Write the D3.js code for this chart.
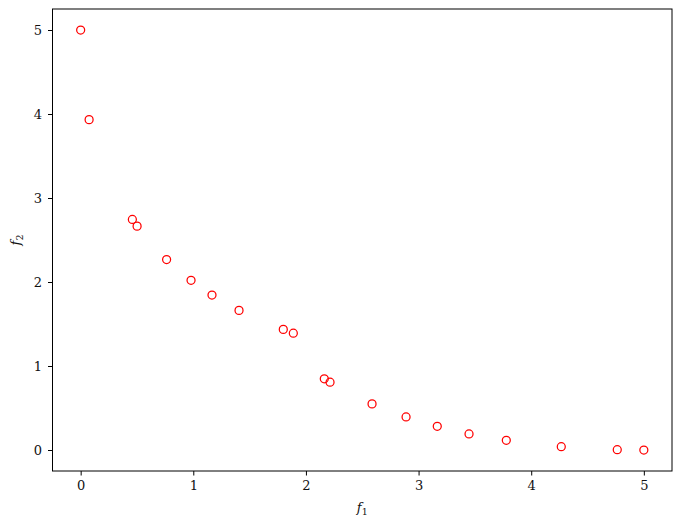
<!DOCTYPE html>
<html><head><meta charset="utf-8">
<script src="https://cdn.jsdelivr.net/npm/d3@7"></script>
<style>body{margin:0;background:#fff}svg{display:block}</style>
</head><body>
<svg id="chart" width="681" height="528"></svg>
<script>
const f1 = [0.0, 0.075, 0.459, 0.501, 0.763, 0.980, 1.166, 1.406, 1.799, 1.888, 2.163, 2.214, 2.587, 2.889, 3.166, 3.448, 3.779, 4.267, 4.764, 5.0];
const f2 = [5.0, 3.933, 2.745, 2.665, 2.267, 2.020, 1.845, 1.662, 1.436, 1.391, 0.847, 0.807, 0.549, 0.394, 0.282, 0.191, 0.115, 0.039, 0.004, 0.0];
const xTicks = [0, 1, 2, 3, 4, 5];
const yTicks = [0, 1, 2, 3, 4, 5];

const svg = d3.select("#chart");
const L = 52.5, R = 672, T = 9, B = 471;
const x = d3.scaleLinear().domain([-0.25, 5.25]).range([L, R]);
const y = d3.scaleLinear().domain([-0.25, 5.25]).range([B, T]);
const font = "'DejaVu Serif', serif";

const xa = svg.append("g").attr("transform", `translate(0,${B})`)
  .call(d3.axisBottom(x).tickValues(xTicks).tickFormat(d3.format("d")).tickSize(4.5).tickPadding(5));
const ya = svg.append("g").attr("transform", `translate(${L},0)`)
  .call(d3.axisLeft(y).tickValues(yTicks).tickFormat(d3.format("d")).tickSize(4.5).tickPadding(6));
[xa, ya].forEach(a => {
  a.select(".domain").remove();
  a.selectAll("line").attr("stroke", "#000").attr("stroke-width", 1);
  a.selectAll("text").attr("fill", "#111").style("font-family", font).style("font-size", "13px");
});

svg.append("rect").attr("x", L).attr("y", T).attr("width", R - L).attr("height", B - T)
  .attr("fill", "none").attr("stroke", "#000").attr("stroke-width", 1);

svg.append("g").selectAll("circle").data(f1).join("circle")
  .attr("cx", (d) => x(d)).attr("cy", (d, i) => y(f2[i])).attr("r", 4)
  .attr("fill", "none").attr("stroke", "red").attr("stroke-width", 1.25);

const xl = svg.append("text").attr("x", (L + R) / 2).attr("y", 512).attr("text-anchor", "middle")
  .style("font-family", font).style("font-size", "13px").attr("fill", "#111");
xl.append("tspan").text("f").style("font-style", "italic");
xl.append("tspan").text("1").attr("dy", 3).style("font-size", "9.5px");

const yl = svg.append("text").attr("transform", `translate(20,${(T + B) / 2}) rotate(-90)`).attr("text-anchor", "middle")
  .style("font-family", font).style("font-size", "13px").attr("fill", "#111");
yl.append("tspan").text("f").style("font-style", "italic");
yl.append("tspan").text("2").attr("dy", 3).style("font-size", "9.5px");
</script>
</body></html>
